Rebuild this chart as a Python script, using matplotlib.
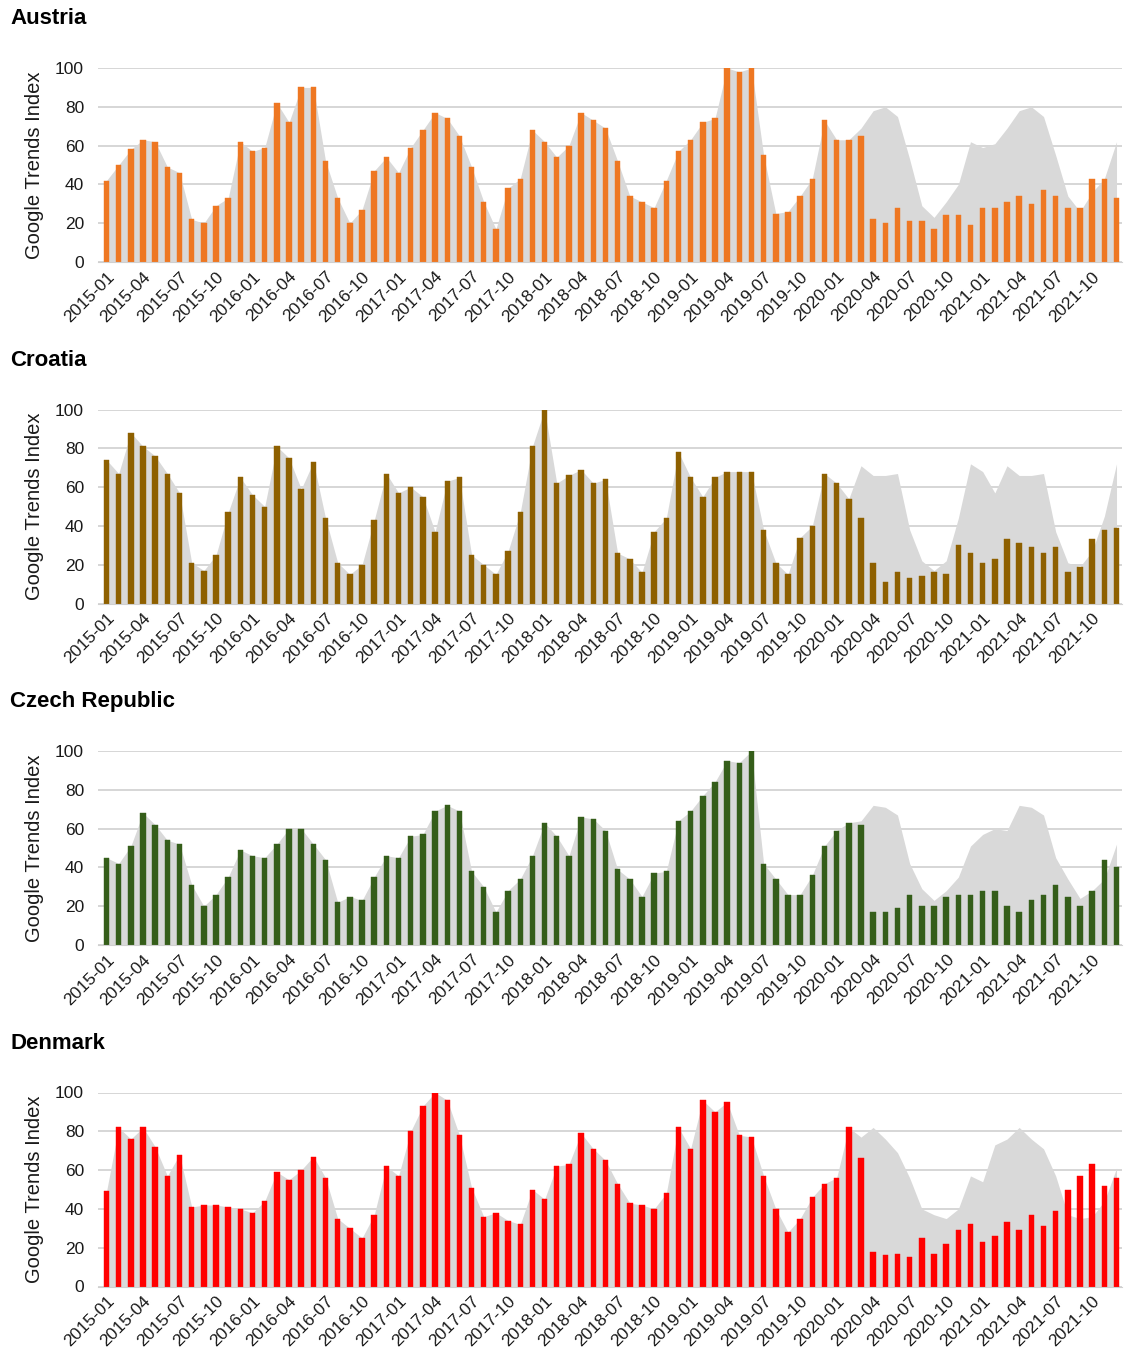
import matplotlib
matplotlib.use("Agg")
import matplotlib.pyplot as plt

plt.rcParams['font.family'] = ['Liberation Sans', 'DejaVu Sans']

# monthly Google Trends index, 2015-01 .. 2021-12
months = ["%d-%02d" % (y, m) for y in range(2015, 2022) for m in range(1, 13)]

austria = [42, 50, 58, 63, 62, 49, 46, 22, 20, 29, 33, 62,
           57, 59, 82, 72, 90, 90, 52, 33, 20, 27, 47, 54,
           46, 59, 68, 77, 74, 65, 49, 31, 17, 38, 43, 68,
           62, 54, 60, 77, 73, 69, 52, 34, 31, 28, 42, 57,
           63, 72, 74, 100, 98, 100, 55, 25, 26, 34, 43, 73,
           63, 63, 65, 22, 20, 28, 21, 21, 17, 24, 24, 19,
           28, 28, 31, 34, 30, 37, 34, 28, 28, 43, 43, 33]
croatia = [74, 67, 88, 81, 76, 67, 57, 21, 17, 25, 47, 65,
           56, 50, 81, 75, 59, 73, 44, 21, 15, 20, 43, 67,
           57, 60, 55, 37, 63, 65, 25, 20, 15, 27, 47, 81,
           100, 62, 66, 69, 62, 64, 26, 23, 16, 37, 44, 78,
           65, 55, 65, 68, 68, 68, 38, 21, 15, 34, 40, 67,
           62, 54, 44, 21, 11, 16, 13, 14, 16, 15, 30, 26,
           21, 23, 33, 31, 29, 26, 29, 16, 19, 33, 38, 39]
czech = [45, 42, 51, 68, 62, 54, 52, 31, 20, 26, 35, 49,
         46, 45, 52, 60, 60, 52, 44, 22, 25, 23, 35, 46,
         45, 56, 57, 69, 72, 69, 38, 30, 17, 28, 34, 46,
         63, 56, 46, 66, 65, 59, 39, 34, 25, 37, 38, 64,
         69, 77, 84, 95, 94, 100, 42, 34, 26, 26, 36, 51,
         59, 63, 62, 17, 17, 19, 26, 20, 20, 25, 26, 26,
         28, 28, 20, 17, 23, 26, 31, 25, 20, 28, 44, 40]
denmark = [49, 82, 76, 82, 72, 57, 68, 41, 42, 42, 41, 40,
           38, 44, 59, 55, 60, 67, 56, 35, 30, 25, 37, 62,
           57, 80, 93, 100, 96, 78, 51, 36, 38, 34, 32, 50,
           45, 62, 63, 79, 71, 65, 53, 43, 42, 40, 48, 82,
           71, 96, 90, 95, 78, 77, 57, 40, 28, 35, 46, 53,
           56, 82, 66, 18, 16, 17, 15, 25, 17, 22, 29, 32,
           23, 26, 33, 29, 37, 31, 39, 50, 57, 63, 52, 56]

# grey "expected" area from 2020-03 onward (before that it follows the bars)
austria_expected = [69, 78, 80, 75, 53, 29, 23, 31, 40, 62, 59,
                    61, 69, 78, 80, 75, 55, 34, 26, 36, 43, 62]
croatia_expected = [71, 66, 66, 67, 38, 22, 17, 22, 44, 72, 68,
                    57, 71, 66, 66, 67, 37, 21, 19, 27, 45, 72]
czech_expected = [64, 72, 71, 67, 42, 29, 23, 28, 35, 51, 57,
                  60, 59, 72, 71, 67, 45, 34, 24, 28, 34, 52]
denmark_expected = [77, 82, 76, 69, 56, 40, 37, 35, 40, 57, 54,
                    73, 76, 82, 76, 71, 57, 37, 35, 36, 44, 61]

countries = ["Austria", "Croatia", "Czech Republic", "Denmark"]
series = [austria, croatia, czech, denmark]
expected = [austria_expected, croatia_expected, czech_expected, denmark_expected]
colors = ["#EE7722", "#8E6000", "#355E1A", "#FF0000"]

W, H = 1127, 1354
fig = plt.figure(figsize=(W / 100, H / 100), dpi=100)

x = list(range(len(months)))
tick_pos = x[::3]
tick_labels = months[::3]

for k in range(4):
    top = 68 + 341.5 * k
    bottom = 262 + 341.5 * k
    ax = fig.add_axes([98 / W, 1 - bottom / H, (1122 - 98) / W, (bottom - top) / H])
    vals = series[k]
    grey = vals[:len(vals) - len(expected[k])] + expected[k]
    ax.fill_between(x, 0, grey, color="#D9D9D9", lw=0, zorder=1)
    ax.bar(x, vals, width=0.45, color=colors[k], edgecolor=colors[k], lw=0.3, zorder=2)

    ax.set_xlim(-0.7, 83.45)
    ax.set_ylim(0, 100)
    ax.set_yticks([0, 20, 40, 60, 80, 100])
    ax.yaxis.grid(True, color="#D0D0D0", lw=1.2, zorder=0)
    ax.set_axisbelow(True)
    ax.tick_params(axis='both', length=0, labelsize=12.5, colors="#1a1a1a")
    ax.tick_params(axis='y', pad=10)
    ax.tick_params(axis='x', pad=5)
    ax.set_xticks(tick_pos)
    ax.set_xticklabels(tick_labels, rotation=45, ha='right', rotation_mode='anchor')
    for s in ['top', 'right', 'left']:
        ax.spines[s].set_visible(False)
    ax.spines['bottom'].set_color("#D0D0D0")
    ax.set_ylabel("Google Trends Index", fontsize=14.5, labelpad=8, color="#1a1a1a")

    fig.text(10 / W, 1 - (19 + 341.5 * k) / H, countries[k], fontsize=16,
             fontweight='bold', va='center', ha='left')

fig.savefig("out.png", dpi=100)
